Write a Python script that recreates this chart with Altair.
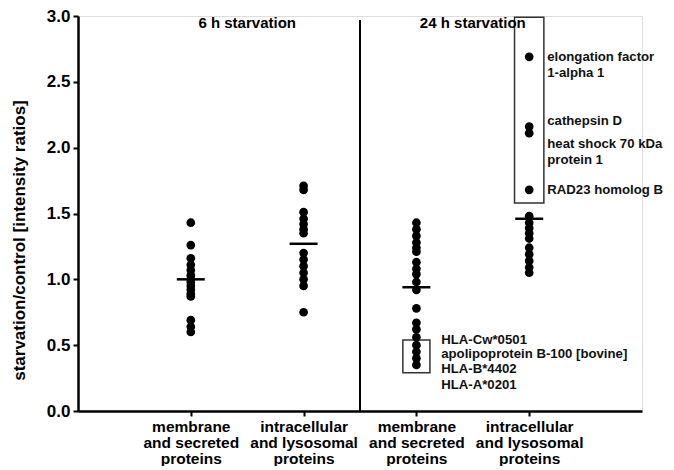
import altair as alt
import pandas as pd

# categories (x positions 1..4)
cat_pos = [1, 2, 3, 4]
mem6 = [1.43, 1.26, 1.16, 1.11, 1.07, 1.03, 1.00, 0.98, 0.95, 0.92, 0.89, 0.87, 0.69, 0.64, 0.60]
int6 = [1.71, 1.68, 1.51, 1.46, 1.42, 1.38, 1.35, 1.20, 1.15, 1.10, 1.05, 1.00, 0.95, 0.75]
mem24 = [1.43, 1.38, 1.33, 1.28, 1.24, 1.21, 1.13, 1.08, 1.04, 0.98, 0.92, 0.78, 0.67, 0.62, 0.56, 0.50, 0.45, 0.40, 0.35]
int24 = [2.69, 2.16, 2.11, 1.68, 1.48, 1.43, 1.39, 1.35, 1.31, 1.24, 1.19, 1.14, 1.09, 1.05]
means = [1.00, 1.27, 0.94, 1.46]

groups = [mem6, int6, mem24, int24]
pts = pd.DataFrame([{"x": cat_pos[i], "y": v} for i, g in enumerate(groups) for v in g])
mean_df = pd.DataFrame({"x": cat_pos, "y": means})

# boxes around highlighted proteins
box_x = [2.88, 3.87]
box_x2 = [3.12, 4.13]
box_y = [0.29, 1.58]
box_y2 = [0.54, 2.99]
box_df = pd.DataFrame({"x": box_x, "x2": box_x2, "y": box_y, "y2": box_y2})

# annotation labels
ann_text = ["HLA-Cw*0501", "apolipoprotein B-100 [bovine]", "HLA-B*4402", "HLA-A*0201",
            "elongation factor", "1-alpha 1", "cathepsin D", "heat shock 70 kDa", "protein 1",
            "RAD23 homolog B"]
ann_x = [3.22] * 4 + [4.16] * 6
ann_y = [0.54, 0.43, 0.32, 0.20, 2.69, 2.57, 2.20, 2.03, 1.91, 1.68]
ann_df = pd.DataFrame({"t": ann_text, "x": ann_x, "y": ann_y})

titles = ["6 h starvation", "24 h starvation"]
title_x = [1.5, 3.5]
title_y = [2.95, 2.95]
title_df = pd.DataFrame({"t": titles, "x": title_x, "y": title_y})

sep_df = pd.DataFrame({"x": [2.5], "y": [0.0], "y2": [2.97]})

FONT = "Liberation Sans"

xscale = alt.Scale(domain=[0, 5], nice=False, zero=False)
yscale = alt.Scale(domain=[0, 3], nice=False)

label_expr = ("datum.value == 1 || datum.value == 3 ? ['membrane', 'and secreted', 'proteins'] : "
              "['intracellular', 'and lysosomal', 'proteins']")

xax = alt.X("x:Q", scale=xscale, title=None,
            axis=alt.Axis(values=cat_pos, labelExpr=label_expr, grid=False,
                          domainColor="black", domainWidth=2.5, tickColor="black",
                          tickWidth=2, tickSize=5, labelFont=FONT, labelFontWeight="bold",
                          labelFontSize=15.5, labelColor="black", labelLineHeight=16,
                          labelPadding=3, labelBaseline="top"))
yax = alt.Y("y:Q", scale=yscale, title="starvation/control [intensity ratios]",
            axis=alt.Axis(values=[0, 0.5, 1.0, 1.5, 2.0, 2.5, 3.0], format=".1f", grid=False,
                          domainColor="black", domainWidth=2.5, tickColor="black",
                          tickWidth=2, tickSize=5, labelFont=FONT, labelFontWeight="bold",
                          labelFontSize=17, labelColor="black", labelPadding=3,
                          titleFont=FONT, titleFontWeight="bold", titleFontSize=17,
                          titleColor="black", titleX=-59, titleY=224, titleAngle=270,
                          titleAlign="center", titleBaseline="middle"))

points = alt.Chart(pts).mark_circle(size=76, color="black", opacity=1).encode(x=xax, y=yax)
mean_ticks = alt.Chart(mean_df).mark_tick(orient="horizontal", size=28, thickness=2.5,
                                          color="black", opacity=1).encode(x="x:Q", y="y:Q")
boxes = alt.Chart(box_df).mark_rect(fill=None, stroke="#333", strokeWidth=1.5).encode(
    x="x:Q", x2="x2:Q", y="y:Q", y2="y2:Q")
sep = alt.Chart(sep_df).mark_rule(color="black", strokeWidth=2).encode(x="x:Q", y="y:Q", y2="y2:Q")
ann = alt.Chart(ann_df).mark_text(align="left", baseline="middle", font=FONT, fontWeight="bold",
                                  fontSize=13.2, color="#111").encode(x="x:Q", y="y:Q", text="t:N")
ttl = alt.Chart(title_df).mark_text(align="center", baseline="middle", font=FONT, fontWeight="bold",
                                    fontSize=15, color="black").encode(x="x:Q", y="y:Q", text="t:N")

chart = alt.layer(sep, boxes, points, mean_ticks, ann, ttl).properties(
    width=564, height=395,
    autosize=alt.AutoSizeParams(type="none"),
    padding={"left": 70, "top": 8, "right": 24, "bottom": 55},
).configure_view(stroke=None).configure(background="white")

chart.save("out.html", embed_options={"renderer": "svg", "actions": False})
